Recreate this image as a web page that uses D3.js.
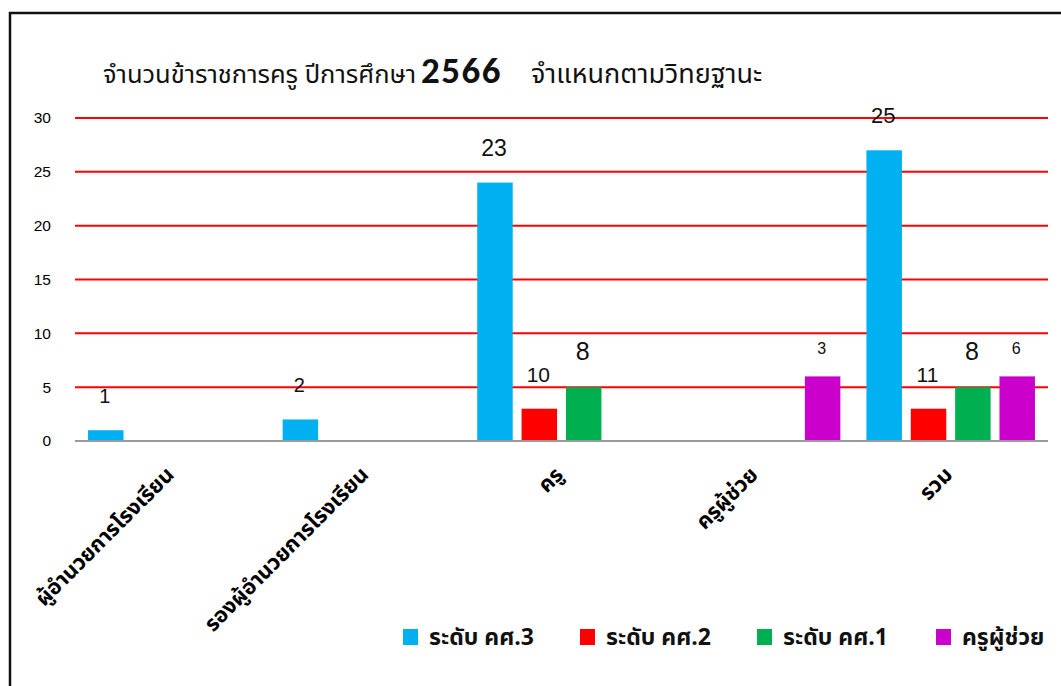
<!DOCTYPE html>
<html>
<head>
<meta charset="utf-8">
<script src="https://cdn.jsdelivr.net/npm/d3@7/dist/d3.min.js"></script>
<style>
  html, body { margin: 0; padding: 0; background: #fff; }
  svg { display: block; }
</style>
</head>
<body>
<svg id="chart" width="1061" height="686"></svg>
<script>
// ---- data ----
const categories = ["ผู้อำนวยการโรงเรียน", "รองผู้อำนวยการโรงเรียน", "ครู", "ครูผู้ช่วย", "รวม"];
const seriesNames = ["ระดับ คศ.3", "ระดับ คศ.2", "ระดับ คศ.1", "ครูผู้ช่วย"];
// bar heights as drawn (null = no bar)
const seriesK3 = [1, 2, 24, null, 27];
const seriesK2 = [null, null, 3, null, 3];
const seriesK1 = [null, null, 5, null, 5];
const seriesAssist = [null, null, null, 6, 6];
// data label texts as shown on the chart
const labelsK3 = ["1", "2", "23", null, "25"];
const labelsK2 = [null, null, "10", null, "11"];
const labelsK1 = [null, null, "8", null, "8"];
const labelsAssist = [null, null, null, "3", "6"];
const yTicks = [0, 5, 10, 15, 20, 25, 30];
const titleParts = ["จำนวนข้าราชการครู ปีการศึกษา", "2566", "จำแหนกตามวิทยฐานะ"];

// ---- styles ----
const colors = ["#00B0F0", "#FF0000", "#00B050", "#CC00CC"];
const labelSizes = [[20, 20, 23, null, 22], [null, null, 21, null, 21], [null, null, 25, null, 25], [null, null, null, 16, 16]];
const thaiFont = "Tahoma, 'Noto Sans Thai', 'Leelawadee UI', 'Loma', 'Garuda', sans-serif";

const values = [seriesK3, seriesK2, seriesK1, seriesAssist];
const labels = [labelsK3, labelsK2, labelsK1, labelsAssist];

const svg = d3.select("#chart");
const plotL = 75, plotR = 1048, plotT = 118, plotB = 441;

// outer border
svg.append("rect").attr("x", 10).attr("y", 13).attr("width", 1070).attr("height", 700)
  .attr("fill", "none").attr("stroke", "#111").attr("stroke-width", 2.5);

const y = d3.scaleLinear().domain([0, 30]).range([plotB, plotT]);
const x0 = d3.scaleBand().domain(categories).range([plotL, plotR]).paddingInner(0).paddingOuter(0);
const bw = x0.bandwidth();
const x1 = d3.scaleBand().domain(d3.range(4)).range([bw * 0.067, bw * 0.933]).paddingInner(0.2).paddingOuter(0);

// gridlines
svg.append("g").selectAll("line").data(yTicks.filter(t => t > 0)).join("line")
  .attr("x1", plotL).attr("x2", plotR)
  .attr("y1", d => y(d)).attr("y2", d => y(d))
  .attr("stroke", "#FF0000").attr("stroke-width", 2);

// y axis labels
const yAxis = d3.axisLeft(y).tickValues(yTicks).tickSize(0).tickPadding(0);
const yg = svg.append("g").attr("transform", `translate(51,0)`).call(yAxis);
yg.select(".domain").remove();
yg.selectAll("text").attr("font-family", "Arial, 'Liberation Sans', sans-serif").attr("font-size", 15.5).attr("fill", "#000");

// bars
const flat = [];
values.forEach((s, si) => s.forEach((v, ci) => { if (v != null) flat.push({si, ci, v, lab: labels[si][ci], fs: labelSizes[si][ci]}); }));

svg.append("g").selectAll("rect").data(flat).join("rect")
  .attr("x", d => x0(categories[d.ci]) + x1(d.si))
  .attr("width", x1.bandwidth())
  .attr("y", d => y(d.v))
  .attr("height", d => y(0) - y(d.v))
  .attr("fill", d => colors[d.si]);

// x axis line
svg.append("line").attr("x1", plotL).attr("x2", plotR).attr("y1", y(0)).attr("y2", y(0))
  .attr("stroke", "#9A9A9A").attr("stroke-width", 2);

// data labels
svg.append("g").selectAll("text").data(flat.filter(d => d.lab != null)).join("text")
  .attr("x", d => x0(categories[d.ci]) + x1(d.si) + x1.bandwidth() / 2 - 1)
  .attr("y", d => y(d.v) - (d.fs < 18 ? 22.5 : 27))
  .attr("text-anchor", "middle")
  .attr("font-family", "Arial, 'Liberation Sans', sans-serif")
  .attr("font-size", d => d.fs)
  .attr("fill", "#111")
  .text(d => d.lab);

// category labels
svg.append("g").selectAll("text").data(categories).join("text")
  .attr("transform", d => `translate(${x0(d) + bw / 2 + 3},${plotB + 35}) rotate(-45)`)
  .attr("text-anchor", "end")
  .attr("font-family", thaiFont)
  .attr("font-weight", "bold")
  .attr("font-size", 21.5)
  .attr("fill", "#000")
  .text(d => d);

// title
const titleG = svg.append("g").attr("fill", "#111");
titleG.append("text").attr("x", 103).attr("y", 83).attr("font-family", thaiFont).attr("font-size", 25.5).text(titleParts[0]);
titleG.append("text").attr("x", 421).attr("y", 83).attr("font-family", "Calibri, Carlito, 'Open Sans', sans-serif").attr("font-weight", "bold").attr("font-size", 37).attr("letter-spacing", 1.5).text(titleParts[1]);
titleG.append("text").attr("x", 531).attr("y", 83).attr("font-family", thaiFont).attr("font-size", 27).text(titleParts[2]);

// legend
const legendX = [403, 580, 757, 936];
const lg = svg.append("g").selectAll("g").data(seriesNames).join("g")
  .attr("transform", (d, i) => `translate(${legendX[i]},629)`);
lg.append("rect").attr("width", 15).attr("height", 16).attr("fill", (d, i) => colors[i]);
lg.append("text").attr("x", 26).attr("y", 16)
  .attr("font-family", thaiFont).attr("font-weight", "bold").attr("font-size", 23).attr("fill", "#111")
  .text(d => d);
</script>
</body>
</html>
